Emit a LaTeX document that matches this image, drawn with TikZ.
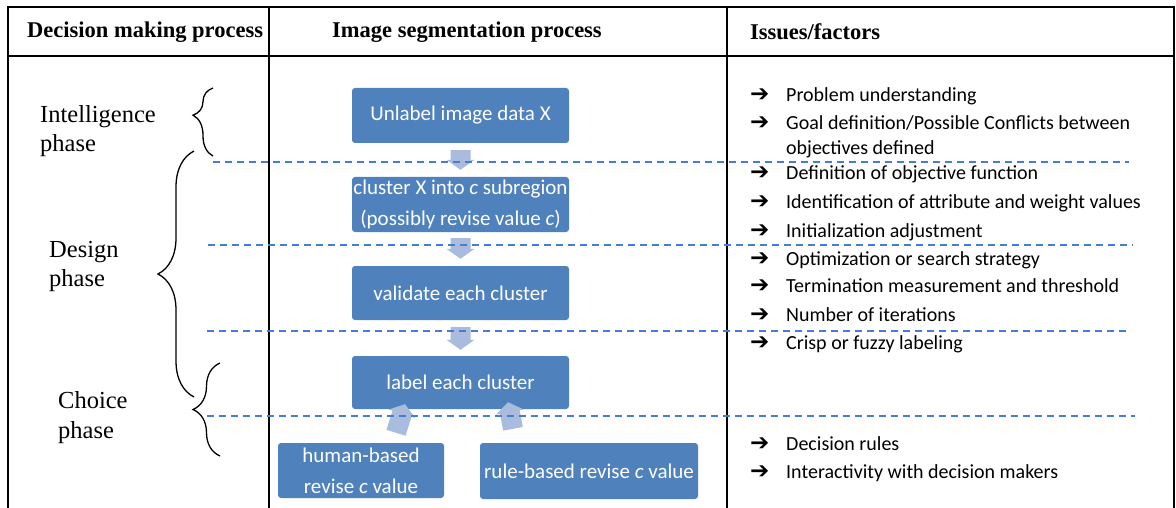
\documentclass[tikz,border=0pt]{standalone}
\usepackage{fontspec}
\setmainfont{Liberation Serif}
\newfontfamily\calfont{Carlito}
\newfontfamily\symfont{DejaVu Sans}
\usetikzlibrary{calc,decorations.pathreplacing}

\definecolor{boxblue}{RGB}{79,129,189}
\definecolor{arrowblue}{RGB}{169,188,222}
\definecolor{dashblue}{RGB}{68,126,212}

\tikzset{
  tablerule/.style={line width=1.8pt, black, line cap=rect},
  headtext/.style={font=\fontsize{22.5}{27}\selectfont\bfseries, anchor=west, inner sep=0pt},
  phasetext/.style={font=\fontsize{24.5}{29.5}\selectfont, align=left, anchor=west, inner sep=0pt},
  stagebox/.style={fill=boxblue, rounded corners=3pt, text=white,
    font=\calfont\fontsize{21}{31}\selectfont, align=center, inner sep=0pt},
  issuetext/.style={font=\calfont\fontsize{20}{24}\selectfont, anchor=base west, inner sep=0pt},
  bullettext/.style={font=\symfont\bfseries\fontsize{23}{24}\selectfont, anchor=base west, inner sep=0pt},
  phasebrace/.style={decorate, line width=1.3pt},
  divider/.style={dashblue, line width=1.5pt, dash pattern=on 7pt off 5pt},
}

% light block arrow from #1 to #2 (shaft 20 wide, head 28 wide, head 10 long)
\newcommand\blockarrow[2]{%
  \fill[arrowblue] let \p1=(#1), \p2=(#2),
    \n1={atan2(\y2-\y1,\x2-\x1)}, \n2={veclen(\x2-\x1,\y2-\y1)} in
    [shift={(\p1)}, rotate=\n1]
    (0,-10) -- ({\n2-10},-10) -- ({\n2-10},-14) -- (\n2,0)
    -- ({\n2-10},14) -- ({\n2-10},10) -- (0,10) -- cycle;}

\begin{document}
\begin{tikzpicture}[x=1pt, y=-1pt]
\useasboundingbox (0,0) rectangle (1176,508);

% table frame
\draw[tablerule] (8,508) -- (8,7) -- (1174,7) -- (1174,508);
\draw[tablerule] (8,56) -- (1174,56);
\draw[tablerule] (269,7) -- (269,508);
\draw[tablerule] (727,7) -- (727,508);

% column headings
\node[headtext] (h1) at (27,32) {Decision making process};
\node[headtext] (h2) at (332,32) {Image segmentation process};
\node[headtext] (h3) at (750,32) {Issues/factors};

% decision phases
\node[phasetext] (pint) at (40,131) {Intelligence\\phase};
\node[phasetext] (pdes) at (49,266.5) {Design\\phase};
\node[phasetext] (pcho) at (58,417.5) {Choice\\phase};

\draw[phasebrace, decoration={brace, amplitude=20pt, aspect=0.6}] (213,156) -- (213,88);
\draw[phasebrace, decoration={brace, amplitude=36pt, aspect=0.5}] (194,397) -- (194,151);
\draw[phasebrace, decoration={brace, amplitude=27pt, aspect=0.5}] (220,456) -- (220,363);

% segmentation steps
\node[stagebox, minimum width=217pt, minimum height=55pt] (unl) at (460.5,115.5) {\raisebox{-2pt}{Unlabel image data X}};
\node[stagebox, minimum width=217pt, minimum height=55pt] (clu) at (460.5,204.5) {cluster X into \textit{c} subregion\\(possibly revise value \textit{c})};
\node[stagebox, minimum width=217pt, minimum height=54pt] (val) at (460.5,293) {validate each cluster};
\node[stagebox, minimum width=217pt, minimum height=53pt] (lab) at (460.5,382.5) {label each cluster};
\node[stagebox, minimum width=166pt, minimum height=55pt] (hum) at (361,470.5) {human-based\\revise \textit{c} value};
\node[stagebox, minimum width=218pt, minimum height=56pt] (rul) at (589,471) {rule-based revise \textit{c} value};

\blockarrow{$(unl.south)+(0,7)$}{$(clu.north)+(0,-7)$}
\blockarrow{$(clu.south)+(0,6)$}{$(val.north)+(0,-7)$}
\blockarrow{$(val.south)+(0,7)$}{$(lab.north)+(0,-6)$}
\blockarrow{$(hum.north)+(35,-10)$}{$(lab.south)+(-55.5,-5)$}
\blockarrow{$(rul.north)+(-76,-14)$}{$(lab.south)+(47.5,-7)$}

% phase boundaries
\draw[divider] (213,162) -- (1129,162);
\draw[divider] (208,245) -- (1133,245);
\draw[divider] (207,331) -- (1131,331);
\draw[divider] (207,416) -- (1135,416);

% issues and factors
\node[bullettext] (b1) at (750,102) {➔};
\node[issuetext] (i1) at (786,102) {Problem understanding};
\node[bullettext] (b2) at (750,130) {➔};
\node[issuetext] (i2) at (786,130) {Goal definition/Possible Conflicts between};
\node[issuetext] (i2b) at (786,155) {objectives defined};
\node[bullettext] (b3) at (750,180) {➔};
\node[issuetext] (i3) at (786,180) {Definition of objective function};
\node[bullettext] (b4) at (750,208) {➔};
\node[issuetext] (i4) at (786,208) {Identification of attribute and weight values};
\node[bullettext] (b5) at (750,237) {➔};
\node[issuetext] (i5) at (786,237) {Initialization adjustment};
\node[bullettext] (b6) at (750,265) {➔};
\node[issuetext] (i6) at (786,265) {Optimization or search strategy};
\node[bullettext] (b7) at (750,292) {➔};
\node[issuetext] (i7) at (786,292) {Termination measurement and threshold};
\node[bullettext] (b8) at (750,321) {➔};
\node[issuetext] (i8) at (786,321) {Number of iterations};
\node[bullettext] (b9) at (750,349) {➔};
\node[issuetext] (i9) at (786,349) {Crisp or fuzzy labeling};
\node[bullettext] (b10) at (750,450) {➔};
\node[issuetext] (i10) at (786,450) {Decision rules};
\node[bullettext] (b11) at (750,478) {➔};
\node[issuetext] (i11) at (786,478) {Interactivity with decision makers};
\end{tikzpicture}
\end{document}
